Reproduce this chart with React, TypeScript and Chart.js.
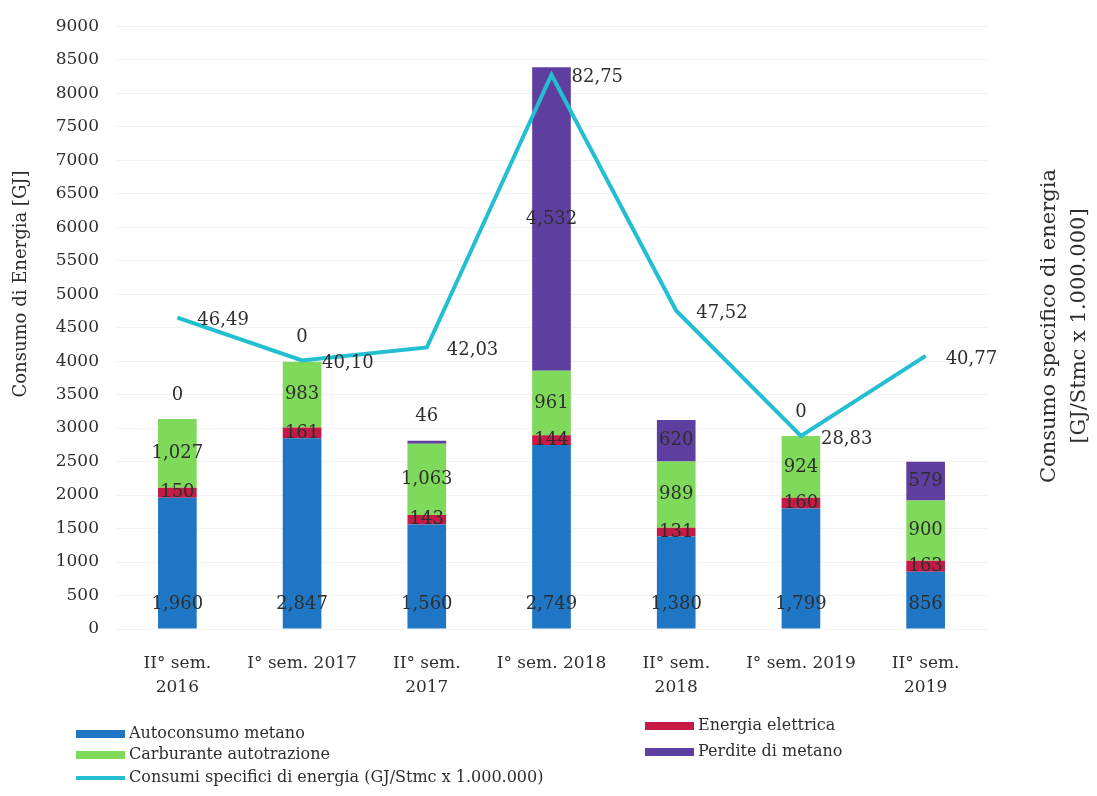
import React, { useEffect, useRef } from "react";
import { Chart, registerables } from "chart.js";

Chart.register(...registerables);

const categories: (string | string[])[] = [
  ["II° sem.", "2016"],
  "I° sem. 2017",
  ["II° sem.", "2017"],
  "I° sem. 2018",
  ["II° sem.", "2018"],
  "I° sem. 2019",
  ["II° sem.", "2019"],
];
const autoconsumoMetano = [1960, 2847, 1560, 2749, 1380, 1799, 856];
const energiaElettrica = [150, 161, 143, 144, 131, 160, 163];
const carburanteAutotrazione = [1027, 983, 1063, 961, 989, 924, 900];
const perditeMetano = [0, 0, 46, 4532, 620, 0, 579];
const consumiSpecifici = [46.49, 40.1, 42.03, 82.75, 47.52, 28.83, 40.77];

const leftAxisTitle = "Consumo di Energia [GJ]";
const rightAxisTitle = ["Consumo specifico di energia", "[GJ/Stmc x 1.000.000]"];

const FONT = '"DejaVu Serif", "Liberation Serif", serif';
const TEXT = "#2e2e2e";

const fmtInt = (v: number) => v.toLocaleString("en-US");
const fmtDec = (v: number) => v.toFixed(2).replace(".", ",");

const labelPlugin = {
  id: "valueLabels",
  afterDatasetsDraw(chart: any) {
    const ctx = chart.ctx;
    ctx.save();
    ctx.fillStyle = TEXT;
    ctx.textBaseline = "middle";
    chart.data.datasets.forEach((ds: any, di: number) => {
      const meta = chart.getDatasetMeta(di);
      if (meta.hidden) return;
      meta.data.forEach((el: any, i: number) => {
        const v = ds.data[i] as number;
        if (ds.type === "line") {
          ctx.font = `18px ${FONT}`;
          ctx.textAlign = "left";
          ctx.fillText(fmtDec(v), el.x + 20, el.y + 3);
          return;
        }
        ctx.font = `18px ${FONT}`;
        ctx.textAlign = "center";
        let y: number;
        if (ds.labelPos === "base") y = el.base - 24;
        else if (ds.labelPos === "end" && v < 100) y = el.y - 24;
        else y = (el.y + el.base) / 2;
        ctx.fillText(fmtInt(v), el.x, y);
      });
    });
    ctx.restore();
  },
};

const decorPlugin = {
  id: "decor",
  afterDraw(chart: any) {
    const ctx = chart.ctx;
    ctx.save();
    ctx.fillStyle = TEXT;
    ctx.textAlign = "center";
    ctx.textBaseline = "middle";
    // left title
    ctx.save();
    ctx.translate(21, 284);
    ctx.rotate(-Math.PI / 2);
    ctx.font = `18px ${FONT}`;
    ctx.fillText(leftAxisTitle, 0, 0);
    ctx.restore();
    // right title
    ctx.save();
    ctx.translate(1050, 326);
    ctx.rotate(-Math.PI / 2);
    ctx.font = `21px ${FONT}`;
    ctx.fillText(rightAxisTitle[0], 0, 0);
    ctx.fillText(rightAxisTitle[1], 0, 30);
    ctx.restore();

    // legend
    const ds = chart.data.datasets;
    const items = [
      { d: ds[0], x: 76, y: 734 },
      { d: ds[2], x: 76, y: 755 },
      { d: ds[4], x: 76, y: 778 },
      { d: ds[1], x: 645, y: 726 },
      { d: ds[3], x: 645, y: 752 },
    ];
    ctx.font = `16px ${FONT}`;
    ctx.textAlign = "left";
    items.forEach((it) => {
      const isLine = it.d.type === "line";
      ctx.fillStyle = isLine ? it.d.borderColor : it.d.backgroundColor;
      const h = isLine ? 4 : 8;
      const w = 49;
      ctx.fillRect(it.x, it.y - h / 2, w, h);
      ctx.fillStyle = TEXT;
      ctx.fillText(it.d.label, it.x + w + 4, it.y);
    });
    ctx.restore();
  },
};

export default function App() {
  const ref = useRef<HTMLCanvasElement>(null);
  useEffect(() => {
    if (!ref.current) return;
    const chart = new Chart(ref.current, {
      type: "bar",
      data: {
        labels: categories as any,
        datasets: [
          {
            type: "bar",
            label: "Autoconsumo metano",
            data: autoconsumoMetano,
            backgroundColor: "#1f76c4",
            stack: "s",
            order: 1,
            labelPos: "base",
          } as any,
          {
            type: "bar",
            label: "Energia elettrica",
            data: energiaElettrica,
            backgroundColor: "#c51a45",
            stack: "s",
            order: 1,
            labelPos: "center",
          } as any,
          {
            type: "bar",
            label: "Carburante autotrazione",
            data: carburanteAutotrazione,
            backgroundColor: "#7fd95a",
            stack: "s",
            order: 1,
            labelPos: "center",
          } as any,
          {
            type: "bar",
            label: "Perdite di metano",
            data: perditeMetano,
            backgroundColor: "#5e3f9f",
            stack: "s",
            order: 1,
            labelPos: "end",
          } as any,
          {
            type: "line",
            label: "Consumi specifici di energia (GJ/Stmc x 1.000.000)",
            data: consumiSpecifici,
            borderColor: "#22bfd2",
            backgroundColor: "#22bfd2",
            borderWidth: 4,
            pointRadius: 0,
            tension: 0,
            yAxisID: "y1",
            order: 0,
          } as any,
        ],
      },
      options: {
        animation: false,
        responsive: false,
        layout: { padding: { left: 0, right: 109, top: 20, bottom: 0 } },
        plugins: {
          legend: { display: false },
          tooltip: { enabled: false },
          title: { display: false },
        },
        datasets: { bar: { barPercentage: 0.31, categoryPercentage: 1 } },
        scales: {
          x: {
            stacked: true,
            grid: { display: false },
            border: { display: false },
            ticks: {
              color: TEXT,
              font: { family: FONT, size: 17, lineHeight: 1.45 },
              padding: 14,
              maxRotation: 0,
              autoSkip: false,
            },
            afterFit: (s: any) => {
              s.height = 167;
            },
          },
          y: {
            stacked: true,
            min: 0,
            max: 9000,
            grid: { color: "#f2f2f2", drawTicks: false },
            border: { display: false },
            ticks: {
              stepSize: 500,
              color: TEXT,
              font: { family: FONT, size: 17 },
              padding: 16,
              callback: (v: any) => String(v),
            },
            afterFit: (s: any) => {
              s.width = 115;
            },
          },
          y1: {
            position: "right",
            display: false,
            min: 0,
            max: 90,
          },
        },
      } as any,
      plugins: [labelPlugin, decorPlugin],
    });
    return () => chart.destroy();
  }, []);
  return (
    <div style={{ position: "absolute", left: 0, top: 0, width: 1097, height: 796, background: "#fff" }}>
      <canvas ref={ref} width={1097} height={796} style={{ display: "block", width: 1097, height: 796 }} />
    </div>
  );
}
